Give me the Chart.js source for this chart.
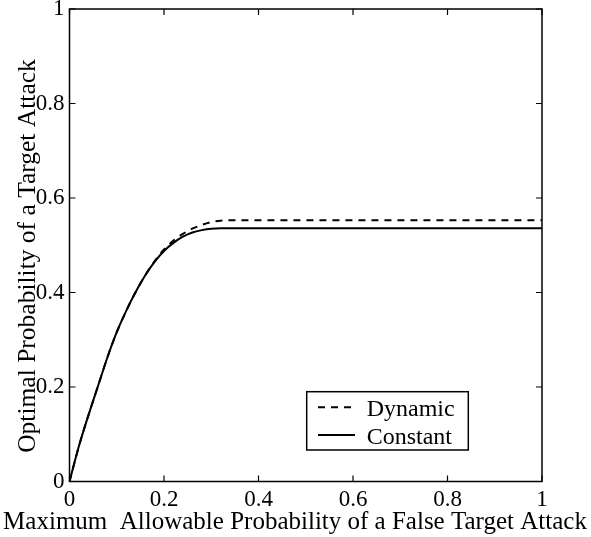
<!DOCTYPE html>
<html>
<head>
<meta charset="utf-8">
<script src="https://cdn.jsdelivr.net/npm/chart.js@4/dist/chart.umd.min.js"></script>
<style>
html,body{margin:0;padding:0;background:#fff;}
#wrap{width:591px;height:537px;position:relative;}
</style>
</head>
<body>
<div id="wrap"><canvas id="c" width="591" height="537"></canvas></div>
<script>
// ---- data ----
const xValues        = [0, 0.02, 0.04, 0.06, 0.08, 0.10, 0.12, 0.14, 0.16, 0.18, 0.20, 0.22, 0.24, 0.26, 0.28, 0.30, 0.32, 0.34, 0.40, 0.50, 0.60, 0.70, 0.80, 0.90, 1.00];
const dynamicValues  = [0, 0.075, 0.140, 0.201, 0.262, 0.316, 0.361, 0.401, 0.436, 0.466, 0.491, 0.510, 0.524, 0.535, 0.543, 0.549, 0.552, 0.553, 0.553, 0.553, 0.553, 0.553, 0.553, 0.553, 0.553];
const constantValues = [0, 0.075, 0.140, 0.201, 0.262, 0.316, 0.361, 0.401, 0.436, 0.465, 0.488, 0.505, 0.518, 0.527, 0.532, 0.535, 0.536, 0.536, 0.536, 0.536, 0.536, 0.536, 0.536, 0.536, 0.536];
const seriesNames    = ['Dynamic', 'Constant'];
const xTickValues    = [0, 0.2, 0.4, 0.6, 0.8, 1];
const yTickValues    = [0, 0.2, 0.4, 0.6, 0.8, 1];
const xTitle = 'Maximum  Allowable Probability of a False Target Attack';
const yTitle = 'Optimal Probability of a Target Attack';

const FONT = '"Liberation Serif", "Times New Roman", Times, serif';

function toPoints(xs, ys) { return xs.map((x, i) => ({ x: x, y: ys[i] })); }
function fmtTick(v) { return String(Number(Number(v).toFixed(1))); }

const frameAndLegend = {
  id: 'frameAndLegend',
  afterDatasetsDraw(chart) {
    const ctx = chart.ctx;
    const a = chart.chartArea;
    const sx = chart.scales.x, sy = chart.scales.y;
    ctx.save();
    ctx.strokeStyle = '#000';
    ctx.lineWidth = 1.5;
    ctx.setLineDash([]);
    ctx.strokeRect(a.left, a.top, a.right - a.left, a.bottom - a.top);
    const tl = 6;
    ctx.lineWidth = 1.2;
    ctx.beginPath();
    xTickValues.forEach(v => {
      const p = sx.getPixelForValue(v);
      ctx.moveTo(p, a.bottom); ctx.lineTo(p, a.bottom - tl);
      ctx.moveTo(p, a.top); ctx.lineTo(p, a.top + tl);
    });
    yTickValues.forEach(v => {
      const p = sy.getPixelForValue(v);
      ctx.moveTo(a.left, p); ctx.lineTo(a.left + tl, p);
      ctx.moveTo(a.right, p); ctx.lineTo(a.right - tl, p);
    });
    ctx.stroke();

    // legend box (inside lower right of plot area)
    const bx = a.right - 235.3, by = a.bottom - 89.8, bw = 161.6, bh = 58.3;
    ctx.fillStyle = '#fff';
    ctx.fillRect(bx, by, bw, bh);
    ctx.lineWidth = 1.5;
    ctx.strokeRect(bx, by, bw, bh);
    const rows = [by + 15.6, by + 43.3];
    chart.data.datasets.forEach((ds, i) => {
      const y = rows[i];
      ctx.beginPath();
      ctx.lineWidth = ds.borderWidth;
      ctx.strokeStyle = ds.borderColor;
      ctx.setLineDash(ds.borderDash || []);
      ctx.moveTo(bx + 11.3, y); ctx.lineTo(bx + 48.3, y);
      ctx.stroke();
      ctx.setLineDash([]);
      ctx.fillStyle = '#000';
      ctx.font = '24px ' + FONT;
      ctx.textBaseline = 'alphabetic';
      ctx.textAlign = 'left';
      ctx.fillText(ds.label, bx + 60, y + 8.5);
    });

    // axis titles
    ctx.fillStyle = '#000';
    ctx.font = '25px ' + FONT;
    ctx.textAlign = 'center';
    ctx.textBaseline = 'alphabetic';
    ctx.fillText(xTitle, 295, 529);

    ctx.translate(28.5, 256);
    ctx.rotate(-Math.PI / 2);
    ctx.font = '25.5px ' + FONT;
    ctx.textBaseline = 'middle';
    ctx.fillText(yTitle, 0, 0);
    ctx.restore();
  }
};

new Chart(document.getElementById('c'), {
  type: 'line',
  data: {
    datasets: [
      {
        label: seriesNames[0],
        data: toPoints(xValues, dynamicValues),
        borderColor: '#000',
        borderWidth: 2,
        borderDash: [7, 6],
        pointRadius: 0,
        fill: false,
        cubicInterpolationMode: 'monotone'
      },
      {
        label: seriesNames[1],
        data: toPoints(xValues, constantValues),
        borderColor: '#000',
        borderWidth: 2,
        pointRadius: 0,
        fill: false,
        cubicInterpolationMode: 'monotone'
      }
    ]
  },
  options: {
    responsive: false,
    animation: false,
    devicePixelRatio: 1,
    layout: { padding: { top: 9, right: 49, left: 0, bottom: 0 } },
    plugins: { legend: { display: false }, tooltip: { enabled: false } },
    scales: {
      x: {
        type: 'linear',
        min: 0, max: 1,
        grid: { display: false, drawTicks: false },
        border: { display: false },
        ticks: {
          stepSize: 0.2,
          padding: 5,
          color: '#000',
          maxRotation: 0,
          autoSkip: false,
          callback: fmtTick,
          font: { family: FONT, size: 23 }
        },
        title: { display: false },
        afterFit(scale) {
          scale.height = 55.5;
          scale.paddingLeft = 0; scale.paddingRight = 0;
        }
      },
      y: {
        type: 'linear',
        min: 0, max: 1,
        grid: { display: false, drawTicks: false },
        border: { display: false },
        ticks: {
          stepSize: 0.2,
          padding: 5,
          color: '#000',
          autoSkip: false,
          callback: fmtTick,
          font: { family: FONT, size: 23 }
        },
        title: { display: false },
        afterFit(scale) {
          scale.width = 69.5;
          scale.paddingTop = 0; scale.paddingBottom = 0;
        }
      }
    }
  },
  plugins: [frameAndLegend]
});
</script>
</body>
</html>
